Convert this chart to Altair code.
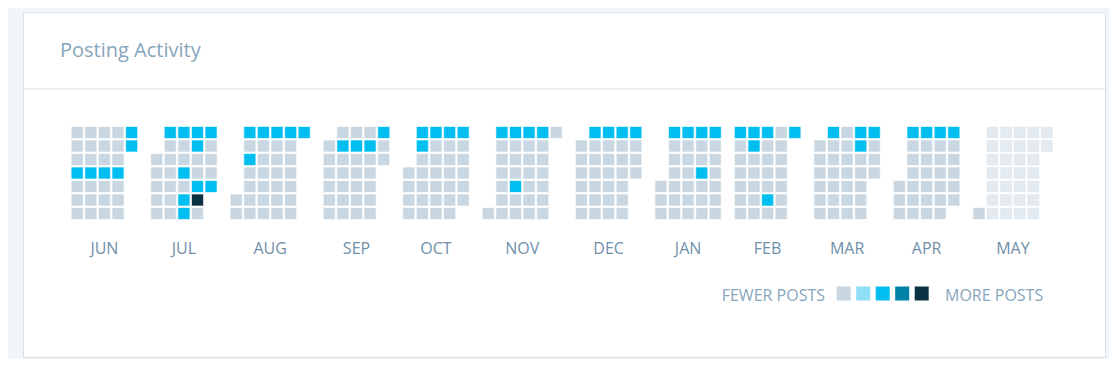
import altair as alt
import pandas as pd

# ---------------- data ----------------
months = ["JUN", "JUL", "AUG", "SEP", "OCT", "NOV", "DEC", "JAN", "FEB", "MAR", "APR", "MAY"]
first_day = "2015-06-01"
last_day = "2016-05-31"
today = "2016-05-01"

# days with one post (level 2) and the busiest day (level 4)
level2_days = [
    "2015-06-04", "2015-06-11", "2015-06-18", "2015-06-25", "2015-06-29", "2015-06-30",
    "2015-07-06", "2015-07-13", "2015-07-16", "2015-07-18", "2015-07-19", "2015-07-20",
    "2015-07-21", "2015-07-24", "2015-07-27", "2015-07-31",
    "2015-08-03", "2015-08-05", "2015-08-10", "2015-08-17", "2015-08-24", "2015-08-31",
    "2015-09-08", "2015-09-15", "2015-09-22", "2015-09-28",
    "2015-10-05", "2015-10-06", "2015-10-12", "2015-10-19", "2015-10-26",
    "2015-11-02", "2015-11-09", "2015-11-13", "2015-11-16", "2015-11-23",
    "2015-12-07", "2015-12-14", "2015-12-21", "2015-12-28",
    "2016-01-04", "2016-01-11", "2016-01-18", "2016-01-21", "2016-01-25",
    "2016-02-01", "2016-02-08", "2016-02-09", "2016-02-15", "2016-02-20", "2016-02-29",
    "2016-03-07", "2016-03-21", "2016-03-22", "2016-03-28",
    "2016-04-04", "2016-04-11", "2016-04-18", "2016-04-25",
]
level4_days = ["2015-07-25"]

levels = [0, 1, 2, 3, 4]
level_colors = ["#c8d7e1", "#8fdff7", "#00bef0", "#0083a8", "#0b3242"]
future_color = "#e3ebf1"

# ---------------- layout constants (pixels) ----------------
W, H = 1082, 345
PX = 13.6          # column pitch
PY = 13.5          # row pitch
CELL = 11.0        # cell side
GAP = 11.5 / PX    # gap between months in column units
X0 = 48.7          # first cell left edge inside the card
Y0 = 115.0         # first row top inside the card

x_dom = [-X0 / PX, (W - X0) / PX]
y_dom = [-Y0 / PY, (H - Y0) / PY]

# ---------------- build calendar table ----------------
df = pd.DataFrame({"date": pd.date_range(first_day, last_day, freq="D")})
df["level"] = 0
df.loc[df["date"].isin(pd.to_datetime(level2_days)), "level"] = 2
df.loc[df["date"].isin(pd.to_datetime(level4_days)), "level"] = 4
df["m"] = (df["date"].dt.year - 2015) * 12 + df["date"].dt.month - 6
month_first = df["date"] - pd.to_timedelta(df["date"].dt.day - 1, unit="D")
df["col"] = (month_first.dt.weekday + df["date"].dt.day - 1) // 7
df["row"] = df["date"].dt.weekday

widths = df.groupby("m")["col"].max() + 1
starts = {}
acc = 0.0
for m in range(12):
    starts[m] = acc
    acc += widths[m] + GAP

df["x"] = df["m"].map(starts) + df["col"]
df["x2"] = df["x"] + CELL / PX
df["y"] = df["row"].astype(float)
df["y2"] = df["y"] + CELL / PY
df["future"] = df["date"] > pd.Timestamp(today)

past = df[~df["future"]].copy()
future = df[df["future"]].copy()

lab = pd.DataFrame({
    "month": months,
    "xc": [starts[m] + (widths[m] - 1) / 2 + CELL / PX / 2 for m in range(12)],
    "yl": [(253.5 - 127) / PY] * 12,
})

xs = alt.Scale(domain=x_dom, nice=False, zero=False)
ys = alt.Scale(domain=y_dom, nice=False, zero=False, reverse=True)
cscale = alt.Scale(domain=levels, range=level_colors)

cells = alt.Chart(past).mark_rect(strokeWidth=1.2, strokeOpacity=0.35).encode(
    x=alt.X("x:Q", scale=xs, axis=None),
    x2="x2:Q",
    y=alt.Y("y:Q", scale=ys, axis=None),
    y2="y2:Q",
    color=alt.Color(
        "level:O",
        scale=cscale,
        legend=alt.Legend(
            orient="none", legendX=813.7, legendY=274.5, direction="horizontal",
            title=None, labelExpr="''", labelOffset=0, symbolType="square",
            symbolSize=196, symbolStrokeWidth=0, symbolOpacity=1, columnPadding=5.5,
            padding=0,
        ),
    ),
    stroke=alt.Stroke("level:O", scale=cscale, legend=None),
    tooltip=[alt.Tooltip("date:T"), alt.Tooltip("level:O")],
)

fut = alt.Chart(future).mark_rect(
    color=future_color, stroke="#d5e0e8", strokeWidth=1.2, strokeOpacity=0.35
).encode(
    x=alt.X("x:Q", scale=xs, axis=None),
    x2="x2:Q",
    y=alt.Y("y:Q", scale=ys, axis=None),
    y2="y2:Q",
)

mlabels = alt.Chart(lab).mark_text(
    font="Open Sans", fontSize=16, color="#6f8fa8", align="center", baseline="alphabetic"
).encode(
    x=alt.X("xc:Q", scale=xs, axis=None),
    y=alt.Y("yl:Q", scale=ys, axis=None),
    text="month:N",
)

one = pd.DataFrame({"t": ["Posting Activity"]})
title = alt.Chart(one).mark_text(
    font="Open Sans", fontSize=20, color="#87a6bc", align="left", baseline="alphabetic"
).encode(x=alt.value(37), y=alt.value(45), text="t:N")

sep = alt.Chart(one).mark_rule(color="#dfe7ed", strokeWidth=1.5).encode(
    x=alt.value(0), x2=alt.value(W), y=alt.value(77)
)

fewer = alt.Chart(pd.DataFrame({"t": ["FEWER POSTS"]})).mark_text(
    font="Open Sans", fontSize=16, color="#87a6bc", align="right", baseline="alphabetic"
).encode(x=alt.value(802), y=alt.value(289), text="t:N")

more = alt.Chart(pd.DataFrame({"t": ["MORE POSTS"]})).mark_text(
    font="Open Sans", fontSize=16, color="#87a6bc", align="left", baseline="alphabetic"
).encode(x=alt.value(922), y=alt.value(289), text="t:N")

chart = alt.layer(sep, title, cells, fut, mlabels, fewer, more).properties(
    width=W, height=H, background="#f3f6f8",
    padding={"left": 15, "top": 4, "right": 4, "bottom": 2},
    autosize="none",
).configure_view(fill="white", stroke="#d9e2e9", strokeWidth=1)

chart.save("out.html", embed_options={"renderer": "svg", "actions": False})
